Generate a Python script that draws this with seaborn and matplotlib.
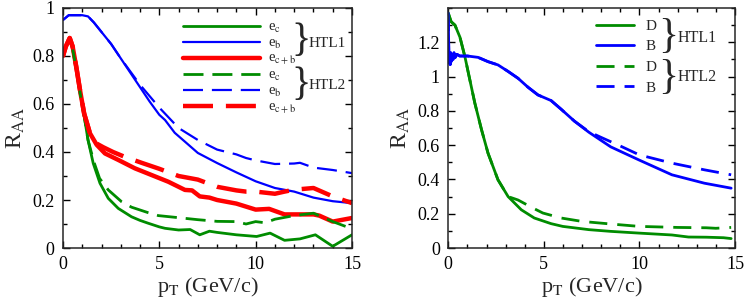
import numpy as np
import matplotlib
matplotlib.use("Agg")
import matplotlib.pyplot as plt
import seaborn as sns
from matplotlib.ticker import MultipleLocator, FuncFormatter

# ---- left panel: electrons from c, b and c+b decays ----
ec_htl1_x = [0, 0.15, 0.35, 0.5, 0.7, 0.9, 1.1, 1.3, 1.57, 1.92, 2.35, 2.87, 3.56, 4.0, 4.43,
             5.0, 5.3, 6.0, 6.6, 7.1, 7.6, 8.0, 9.0, 10.05, 10.75, 11.5, 12.3, 13.1, 14.0, 15.0]
ec_htl1_y = [0.80, 0.84, 0.87, 0.83, 0.74, 0.64, 0.55, 0.45, 0.353, 0.27, 0.207, 0.165, 0.13, 0.115, 0.103,
             0.088, 0.082, 0.075, 0.077, 0.055, 0.07, 0.065, 0.055, 0.048, 0.062, 0.032, 0.038, 0.055, 0.007, 0.055]

ec_htl2_x = [0, 0.15, 0.35, 0.5, 0.7, 0.9, 1.1, 1.3, 1.6, 1.9, 2.35, 3.04, 3.56, 4.43, 4.95, 5.8,
             7.0, 8.0, 9.0, 9.5, 10.0, 10.5, 11.0, 12.0, 13.0, 14.0, 15.0]
ec_htl2_y = [0.80, 0.84, 0.87, 0.83, 0.74, 0.64, 0.55, 0.45, 0.36, 0.29, 0.242, 0.193, 0.17, 0.147, 0.135, 0.128,
             0.118, 0.111, 0.11, 0.10, 0.11, 0.105, 0.12, 0.135, 0.145, 0.11, 0.08]

eb_htl1_x = [0, 0.3, 0.6, 1.0, 1.3, 1.6, 2.0, 2.5, 3.0, 3.5, 4.0, 4.5, 5.0, 5.3, 5.8, 6.33,
             7.0, 8.0, 9.0, 10.0, 11.0, 12.0, 13.0, 14.0, 15.0]
eb_htl1_y = [0.95, 0.97, 0.97, 0.97, 0.965, 0.94, 0.90, 0.85, 0.79, 0.73, 0.67, 0.61, 0.555, 0.533, 0.48, 0.443,
             0.396, 0.354, 0.315, 0.278, 0.25, 0.235, 0.21, 0.195, 0.187]

eb_htl2_x = [0, 0.3, 0.6, 1.0, 1.3, 1.6, 2.0, 2.5, 3.0, 3.5, 4.0, 5.0, 6.0, 7.0, 8.0, 9.0, 9.5,
             10.0, 11.0, 12.0, 12.3, 13.0, 14.0, 15.0]
eb_htl2_y = [0.95, 0.97, 0.97, 0.97, 0.965, 0.94, 0.90, 0.85, 0.79, 0.735, 0.68, 0.585, 0.50, 0.45, 0.41, 0.39, 0.375,
             0.365, 0.35, 0.352, 0.355, 0.335, 0.325, 0.312]

ecb_htl1_x = [0, 0.15, 0.35, 0.5, 0.7, 0.9, 1.1, 1.4, 1.75, 2.18, 2.87, 3.73, 4.6, 5.47, 6.33, 6.7,
              7.1, 7.6, 8.0, 9.0, 10.0, 10.7, 11.5, 12.0, 13.0, 13.3, 14.0, 15.0]
ecb_htl1_y = [0.80, 0.84, 0.875, 0.84, 0.75, 0.65, 0.56, 0.478, 0.43, 0.394, 0.367, 0.332, 0.304, 0.276, 0.242, 0.24,
              0.215, 0.21, 0.20, 0.185, 0.16, 0.163, 0.14, 0.14, 0.14, 0.135, 0.11, 0.125]

ecb_htl2_x = [0, 0.15, 0.35, 0.5, 0.7, 0.9, 1.1, 1.4, 1.75, 2.09, 2.6, 3.2, 4.08, 5.0, 6.0, 7.0,
              7.5, 8.0, 9.0, 9.5, 10.0, 11.0, 11.5, 12.0, 13.0, 14.0, 15.0]
ecb_htl2_y = [0.80, 0.84, 0.875, 0.84, 0.75, 0.65, 0.56, 0.478, 0.435, 0.42, 0.40, 0.38, 0.355, 0.33, 0.30, 0.285,
              0.27, 0.255, 0.24, 0.235, 0.235, 0.226, 0.235, 0.243, 0.25, 0.215, 0.187]

# ---- right panel: D and B mesons ----
d_htl1_x = [0, 0.15, 0.35, 0.61, 0.87, 1.13, 1.39, 1.74, 2.08, 2.6, 3.13, 3.82, 4.5, 5.38, 5.99,
            7.36, 8.5, 9.97, 11.7, 12.57, 13.5, 14.4, 14.8]
d_htl1_y = [1.37, 1.32, 1.30, 1.23, 1.116, 0.98, 0.845, 0.69, 0.553, 0.398, 0.30, 0.223, 0.175, 0.142, 0.126,
            0.107, 0.097, 0.087, 0.076, 0.064, 0.063, 0.06, 0.055]

d_htl2_x = [0, 0.15, 0.35, 0.61, 0.87, 1.13, 1.39, 1.74, 2.08, 2.6, 3.13, 3.65, 4.43, 4.95, 5.9,
            7.0, 8.5, 10.0, 12.0, 13.5, 14.0, 14.8]
d_htl2_y = [1.37, 1.32, 1.30, 1.23, 1.116, 0.98, 0.845, 0.69, 0.553, 0.398, 0.30, 0.28, 0.233, 0.204, 0.175,
            0.155, 0.14, 0.126, 0.12, 0.118, 0.115, 0.12]

b_htl1_x = [0, 0.02, 0.04, 0.07, 0.1, 0.13, 0.17, 0.2, 0.25, 0.3, 0.35, 0.45, 0.6, 1.0, 1.56, 2.08,
            2.6, 3.13, 3.65, 4.17, 4.69, 5.38, 5.9, 6.6, 7.36, 8.5, 9.97, 11.7, 13.4, 14.8]
b_htl1_y = [1.37, 1.20, 1.08, 1.13, 1.07, 1.14, 1.09, 1.13, 1.10, 1.14, 1.11, 1.13, 1.12, 1.12, 1.112, 1.087,
            1.068, 1.03, 0.99, 0.938, 0.893, 0.86, 0.81, 0.74, 0.675, 0.59, 0.514, 0.427, 0.378, 0.349]

b_htl2_x = [0, 0.02, 0.04, 0.07, 0.1, 0.13, 0.17, 0.2, 0.25, 0.3, 0.35, 0.45, 0.6, 1.0, 1.56, 2.08,
            2.6, 3.13, 3.65, 4.17, 4.69, 5.38, 5.9, 6.6, 7.36, 8.0, 9.0, 10.0, 11.7, 13.4, 14.8]
b_htl2_y = [1.37, 1.20, 1.08, 1.13, 1.07, 1.14, 1.09, 1.13, 1.10, 1.14, 1.11, 1.13, 1.12, 1.12, 1.112, 1.087,
            1.068, 1.03, 0.99, 0.938, 0.893, 0.86, 0.81, 0.74, 0.678, 0.645, 0.595, 0.543, 0.495, 0.456, 0.427]

GREEN = "#008c00"
BLUE = "#0000ff"
RED = "#ff0000"

sns.set_style("ticks")
plt.rcParams["font.family"] = ["Liberation Serif", "DejaVu Serif"]
plt.rcParams["mathtext.fontset"] = "stix"
plt.rcParams["axes.linewidth"] = 1.1

fig = plt.figure(figsize=(7.47, 3.04), dpi=100)
ax1 = fig.add_axes([0.0843, 0.1842, 0.3869, 0.7895])
ax2 = fig.add_axes([0.6001, 0.1842, 0.3838, 0.7895])


def draw(ax, x, y, color, lw, dash=None, label=None):
    kw = dict(linestyle=(0, dash)) if dash else {}
    sns.lineplot(x=x, y=y, ax=ax, color=color, linewidth=lw, sort=False,
                 estimator=None, label=label, **kw)


# left panel
draw(ax1, ec_htl1_x, ec_htl1_y, GREEN, 2.0, label=r"e$_\mathrm{c}$")
draw(ax1, eb_htl1_x, eb_htl1_y, BLUE, 1.6, label=r"e$_\mathrm{b}$")
draw(ax1, ecb_htl1_x, ecb_htl1_y, RED, 3.2, label=r"e$_\mathrm{c+b}$")
draw(ax1, ec_htl2_x, ec_htl2_y, GREEN, 2.0, (7.2, 3.2), label=r"e$_\mathrm{c}$")
draw(ax1, eb_htl2_x, eb_htl2_y, BLUE, 1.6, (9, 4), label=r"e$_\mathrm{b}$")
draw(ax1, ecb_htl2_x, ecb_htl2_y, RED, 3.2, (6.75, 2.9), label=r"e$_\mathrm{c+b}$")

# right panel
draw(ax2, d_htl1_x, d_htl1_y, GREEN, 2.0, label="D")
draw(ax2, b_htl1_x, b_htl1_y, BLUE, 2.0, label="B")
draw(ax2, d_htl2_x, d_htl2_y, GREEN, 2.0, (6.5, 3.6), label="D")
draw(ax2, b_htl2_x, b_htl2_y, BLUE, 2.0, (6.5, 3.6), label="B")

for ax, ymax in [(ax1, 1.0), (ax2, 1.4)]:
    ax.set_xlim(0, 15)
    ax.set_ylim(0, ymax)
    ax.xaxis.set_major_locator(MultipleLocator(5))
    ax.xaxis.set_minor_locator(MultipleLocator(1))
    ax.yaxis.set_minor_locator(MultipleLocator(0.1))
    ax.yaxis.set_major_formatter(FuncFormatter(lambda v, p: f"{v:g}"))
    ax.tick_params(which="both", direction="in", top=True, right=True,
                   labelsize=13, pad=6, width=1.0, colors="black")
    ax.tick_params(which="major", length=5)
    ax.tick_params(which="minor", length=3)
    ax.set_xlabel(r"p$_\mathrm{T}$ (GeV/c)", fontsize=16, labelpad=1)
    ax.set_ylabel(r"R$_\mathrm{AA}$", fontsize=17, labelpad=4)

ax1.set_yticks(np.arange(0, 1.01, 0.2))
ax2.set_yticks(np.arange(0, 1.21, 0.2))

leg1 = ax1.legend(loc="upper left", bbox_to_anchor=(0.39, 0.978), frameon=False,
                  fontsize=10.5, handlelength=5.3, handletextpad=0.5, borderpad=0,
                  labelspacing=0.12, handleheight=0.5)
leg2 = ax2.legend(loc="upper left", bbox_to_anchor=(0.487, 0.985), frameon=False,
                  fontsize=11, handlelength=2.5, handletextpad=0.75, borderpad=0,
                  labelspacing=0.45)

# braces and group names
ax1.text(0.824, 0.862, "}", transform=ax1.transAxes, fontsize=29, va="center", ha="center")
ax1.text(0.849, 0.853, "HTL1", transform=ax1.transAxes, fontsize=11, va="center", ha="left")
ax1.text(0.824, 0.676, "}", transform=ax1.transAxes, fontsize=29, va="center", ha="center")
ax1.text(0.849, 0.675, "HTL2", transform=ax1.transAxes, fontsize=11, va="center", ha="left")

ax2.text(0.768, 0.880, "}", transform=ax2.transAxes, fontsize=30, va="center", ha="center")
ax2.text(0.80, 0.877, "HTL1", transform=ax2.transAxes, fontsize=11.5, va="center", ha="left")
ax2.text(0.768, 0.710, "}", transform=ax2.transAxes, fontsize=30, va="center", ha="center")
ax2.text(0.80, 0.712, "HTL2", transform=ax2.transAxes, fontsize=11.5, va="center", ha="left")

fig.savefig("out.png", dpi=100)
